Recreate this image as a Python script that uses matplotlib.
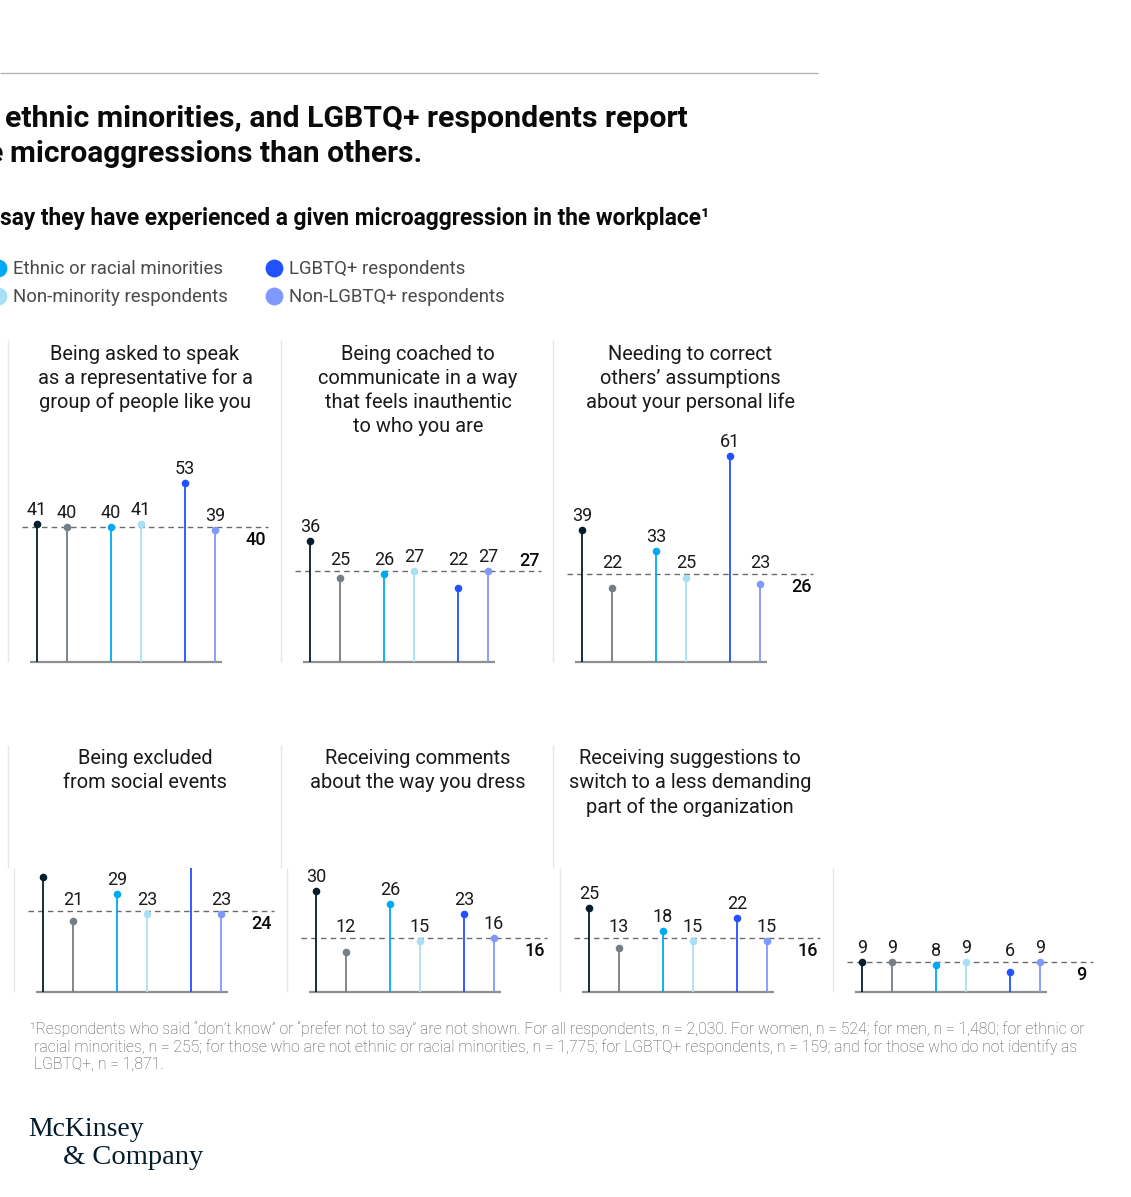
import matplotlib
matplotlib.use("Agg")
import matplotlib.pyplot as plt

# ---- data ----
series_names = ["Women", "Men", "Ethnic or racial minorities", "Non-minority respondents",
                "LGBTQ+ respondents", "Non-LGBTQ+ respondents"]
series_colors = ["#051C2C", "#737E87", "#00A9F4", "#A9DFF5", "#2251FF", "#7F98FB"]

panel_titles = [
    ["Being asked to speak", "as a representative for a", "group of people like you"],
    ["Being coached to", "communicate in a way", "that feels inauthentic", "to who you are"],
    ["Needing to correct", "others\u2019 assumptions", "about your personal life"],
    ["Being excluded", "from social events"],
    ["Receiving comments", "about the way you dress"],
    ["Receiving suggestions to", "switch to a less demanding", "part of the organization"],
]

women = [41, 36, 39, 34, 30, 25, 9]
men = [40, 25, 22, 21, 12, 13, 9]
ethnic = [40, 26, 33, 29, 26, 18, 8]
non_minority = [41, 27, 25, 23, 15, 15, 9]
lgbtq = [53, 22, 61, 40, 23, 22, 6]
non_lgbtq = [39, 27, 23, 23, 16, 15, 9]
overall = [40, 27, 26, 24, 16, 16, 9]

footnote = [
    "\u00b9Respondents who said \u201cdon\u2019t know\u201d or \u201cprefer not to say\u201d are not shown. "
    "For all respondents, n = 2,030. For women, n = 524; for men, n = 1,480; for ethnic or",
    "racial minorities, n = 255; for those who are not ethnic or racial minorities, n = 1,775; "
    "for LGBTQ+ respondents, n = 159; and for those who do not identify as",
    "LGBTQ+, n = 1,871.",
]

# ---- layout (pixels) ----
W, H = 1131, 1197
PX = 3.375            # pixels per percentage point
BODY = "Roboto"
stem_off = [29, 59, 103, 133, 177, 207]

plt.rcParams["font.family"] = [BODY, "DejaVu Sans"]

fig = plt.figure(figsize=(W / 100, H / 100), dpi=100)
bg = fig.add_axes([0, 0, 1, 1])
bg.set_xlim(0, W)
bg.set_ylim(H, 0)
bg.axis("off")


def add_px_axes(left, top, width, height):
    return fig.add_axes([left / W, 1 - (top + height) / H, width / W, height / H])


# header
bg.hlines(73, 0, 818, color="#b5b5b5", lw=1)
bg.text(5, 119, "ethnic minorities, and LGBTQ+ respondents report", fontsize=21.8,
        fontweight="bold", va="center", color="#0a0a0a")
bg.text(3, 154, "e", fontsize=21.8, fontweight="bold", va="center", ha="right", color="#0a0a0a")
bg.text(10, 154, "microaggressions than others.", fontsize=21.5, fontweight="bold",
        va="center", color="#0a0a0a")
bg.text(0, 219, "say they have experienced a given microaggression in the workplace\u00b9",
        fontsize=16.4, fontweight="bold", va="center", color="#0a0a0a")

# legend (left column cut off by the crop)
leg_pos = [(-2, 268), (-2, 296), (274, 268), (274, 296)]
for (lx, ly), name, col in zip(leg_pos, series_names[2:], series_colors[2:]):
    bg.scatter([lx], [ly], s=165, color=col, zorder=3, linewidths=0)
    bg.text(lx + 15, ly + 1, name, fontsize=13.4, va="center", color="#4a4a4a")

all_vals = [women, men, ethnic, non_minority, lgbtq, non_lgbtq]

# panel dividers
title_div = [8, 281, 553]
STRIP_TOP = 868
bg.vlines(title_div, 340, 662, color="#e8e8e8", lw=1)
bg.vlines(title_div, 745, STRIP_TOP, color="#e8e8e8", lw=1)
strip_div = [14, 287, 560, 833]
bg.vlines(strip_div, STRIP_TOP, 992, color="#e8e8e8", lw=1)

# panel titles
for i, lines in enumerate(panel_titles):
    cx = title_div[i % 3] + 137
    y0 = 354 if i < 3 else 759
    for k, line in enumerate(lines):
        bg.text(cx, y0 + 24 * k, line, fontsize=14.4, ha="center", va="center",
                color="#1a1a1a")

avg_above = [False, True, False, False, False, False, False]


def draw_panel(ax, p, clip):
    vals = [s[p] for s in all_vals]
    avg = overall[p]
    ax.hlines(0, 22, 214, color="#8f8f8f", lw=1.6, clip_on=clip, zorder=1)
    ax.hlines(avg, 14, 260, color="#6b6b6b", lw=1, linestyles=(0, (4, 3)),
              clip_on=clip, zorder=2)
    for x, v, c in zip(stem_off, vals, series_colors):
        ax.vlines(x, 0, v, color=c, lw=1.3, clip_on=clip, zorder=3)
        ax.scatter([x], [v], s=30, color=c, zorder=4, clip_on=clip, linewidths=0)
        # labels of marks under the average sit just above the dashed line
        if v < avg:
            anchor, off = avg, 11
        else:
            anchor, off = v, 14
        ax.annotate(str(v), (x, anchor), xytext=(0, off), textcoords="offset pixels",
                    ha="center", va="center", fontsize=13, color="#1a1a1a",
                    annotation_clip=False, clip_on=clip)
    dy = 10 if avg_above[p] else -13
    ax.annotate(str(avg), (248, avg), xytext=(0, dy), textcoords="offset pixels",
                ha="center", va="center", fontsize=13, color="#0a0a0a", fontweight="medium",
                clip_on=clip)


# top row
for p in range(3):
    ax = add_px_axes(title_div[p], 420, 273, 250)
    ax.set_xlim(0, 273)
    ax.set_ylim(-8 / PX, 242 / PX)
    ax.axis("off")
    draw_panel(ax, p, clip=False)

# bottom strip (cropped at its top edge)
for j, p in enumerate(range(3, 7)):
    ax = add_px_axes(strip_div[j], STRIP_TOP, 273, 1000 - STRIP_TOP)
    ax.set_xlim(0, 273)
    ax.set_ylim(-8 / PX, (992 - STRIP_TOP) / PX)
    ax.axis("off")
    draw_panel(ax, p, clip=True)

# footnote
bg.text(30, 1029, footnote[0], fontsize=11.3, va="center", color="#505050", fontweight="light")
bg.text(34, 1047, footnote[1], fontsize=11.3, va="center", color="#505050", fontweight="light")
bg.text(34, 1064, footnote[2], fontsize=11.3, va="center", color="#505050", fontweight="light")

# logo
bg.text(28, 1129, "McKinsey", fontsize=20, family="Liberation Serif", va="center", color="#051C2C")
bg.text(63, 1157, "& Company", fontsize=20.5, family="Liberation Serif", va="center", color="#051C2C")

fig.savefig("out.png", dpi=100)
